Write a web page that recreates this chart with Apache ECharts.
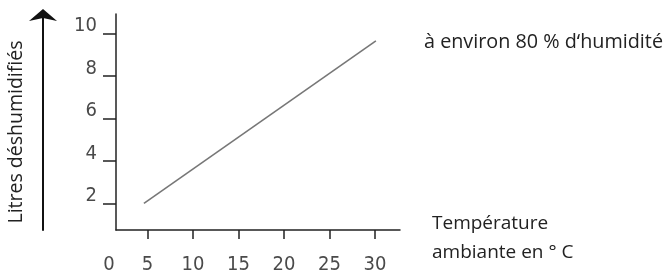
<!DOCTYPE html>
<html>
<head>
<meta charset="utf-8">
<script src="https://cdn.jsdelivr.net/npm/echarts@6/dist/echarts.min.js"></script>
<style>
  html, body { margin: 0; padding: 0; background: #fff; }
  #main { width: 670px; height: 271px; }
</style>
</head>
<body>
<div id="main"></div>
<script>
// valeurs
const temperatures = [4.6, 30.1];
const litres = [2.0, 9.65];
const xTicks = [5, 10, 15, 20, 25, 30];
const yTicks = [2, 4, 6, 8, 10];
const xZeroLabel = '0';

const xMin = 1.53, xMax = 32.75;
const yMin = 0.75, yMax = 10.91;

const chartDom = document.getElementById('main');
const myChart = echarts.init(chartDom);

const numFont = { fontFamily: 'DejaVu Sans Condensed', fontSize: 20, color: '#4a4a4a', fontWeight: 'normal' };
const textFont = 'Open Sans';

const option = {
    animation: false,
    title: [{
        text: 'à environ 80 % d‘humidité',
        left: 424, top: 32, padding: 0,
        textStyle: { fontFamily: textFont, fontSize: 19.8, fontWeight: 'normal', color: '#222' }
    }, {
        // nom de l'axe des x, à droite de l'axe
        text: 'Température\nambiante en ° C',
        left: 432, top: 209, padding: 0,
        textStyle: { fontFamily: textFont, fontSize: 19, fontWeight: 'normal', color: '#222', lineHeight: 29 }
    }],
    grid: { left: 116, right: 270, top: 14, bottom: 41, outerBoundsMode: 'none', containLabel: false },
    xAxis: {
        type: 'value', min: xMin, max: xMax,
        splitLine: { show: false },
        axisLine: { lineStyle: { color: '#222', width: 1.5 } },
        axisTick: { customValues: xTicks, length: 9, lineStyle: { color: '#222', width: 1.5 } },
        axisLabel: {
            customValues: [xMin].concat(xTicks),
            margin: 25,
            ...numFont,
            formatter: v => v === xMin ? '{z|' + xZeroLabel + '}' : String(v),
            rich: { z: { ...numFont, padding: [0, 14, 0, 0] } }
        }
    },
    yAxis: [{
        type: 'value', min: yMin, max: yMax,
        splitLine: { show: false },
        axisLine: { show: true, lineStyle: { color: '#222', width: 1.5 } },
        axisTick: { show: true, customValues: yTicks, length: 13, lineStyle: { color: '#222', width: 1.5 } },
        axisLabel: { customValues: yTicks, margin: 19, ...numFont, verticalAlign: 'bottom', lineHeight: 15 }
    }, {
        type: 'value', min: yMin, max: yMax,
        position: 'left', offset: 73,
        splitLine: { show: false },
        axisLine: {
            show: true, symbol: ['none', 'arrow'], symbolSize: [21, 12], symbolOffset: [0, 5],
            lineStyle: { color: '#111', width: 2 }
        },
        axisTick: { show: false },
        axisLabel: { show: false },
        name: 'Litres déshumidifiés',
        nameLocation: 'middle', nameGap: 17, nameRotate: 90,
        nameTextStyle: { fontFamily: textFont, fontSize: 19.5, color: '#222', padding: [0, 20, 0, 0] }
    }],
    series: [{
        type: 'line',
        data: temperatures.map((t, i) => [t, litres[i]]),
        symbol: 'none',
        lineStyle: { color: '#777', width: 1.6 }
    }]
};
option && myChart.setOption(option);
</script>
</body>
</html>
